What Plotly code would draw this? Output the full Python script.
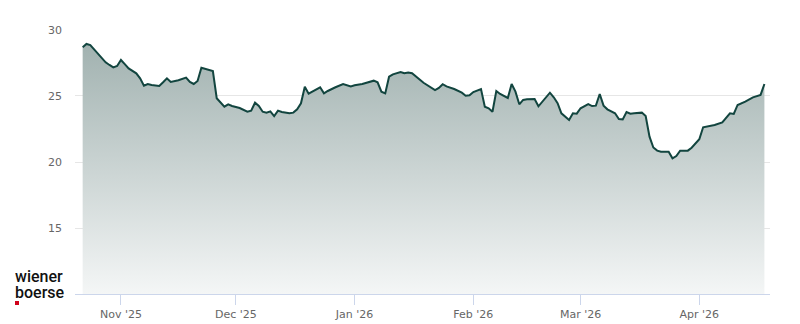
import plotly.graph_objects as go

dates = [
    "2025-10-22", "2025-10-23", "2025-10-24", "2025-10-26", "2025-10-28", "2025-10-29",
    "2025-10-30", "2025-10-31", "2025-11-01", "2025-11-02", "2025-11-03", "2025-11-05",
    "2025-11-06", "2025-11-07", "2025-11-08", "2025-11-09", "2025-11-11", "2025-11-12",
    "2025-11-13", "2025-11-14", "2025-11-16", "2025-11-18", "2025-11-19", "2025-11-20",
    "2025-11-21", "2025-11-22", "2025-11-23", "2025-11-25", "2025-11-26", "2025-11-27",
    "2025-11-28", "2025-11-29", "2025-11-30", "2025-12-02", "2025-12-04", "2025-12-05",
    "2025-12-06", "2025-12-07", "2025-12-08", "2025-12-09", "2025-12-10", "2025-12-11",
    "2025-12-12", "2025-12-13", "2025-12-15", "2025-12-16", "2025-12-17", "2025-12-18",
    "2025-12-19", "2025-12-20", "2025-12-21", "2025-12-23", "2025-12-24", "2025-12-25",
    "2025-12-27", "2025-12-29", "2025-12-31", "2026-01-01", "2026-01-03", "2026-01-05",
    "2026-01-06", "2026-01-07", "2026-01-08", "2026-01-09", "2026-01-10", "2026-01-11",
    "2026-01-13", "2026-01-14", "2026-01-15", "2026-01-16", "2026-01-17", "2026-01-18",
    "2026-01-19", "2026-01-22", "2026-01-23", "2026-01-24", "2026-01-25", "2026-01-27",
    "2026-01-29", "2026-01-30", "2026-01-31", "2026-02-01", "2026-02-03", "2026-02-04",
    "2026-02-05", "2026-02-06", "2026-02-07", "2026-02-08", "2026-02-10", "2026-02-11",
    "2026-02-12", "2026-02-13", "2026-02-14", "2026-02-15", "2026-02-17", "2026-02-18",
    "2026-02-21", "2026-02-22", "2026-02-23", "2026-02-24", "2026-02-26", "2026-02-27",
    "2026-02-28", "2026-03-01", "2026-03-03", "2026-03-04", "2026-03-05", "2026-03-06",
    "2026-03-07", "2026-03-08", "2026-03-10", "2026-03-11", "2026-03-12", "2026-03-13",
    "2026-03-14", "2026-03-15", "2026-03-17", "2026-03-18", "2026-03-19", "2026-03-20",
    "2026-03-21", "2026-03-22", "2026-03-24", "2026-03-25", "2026-03-26", "2026-03-27",
    "2026-03-29", "2026-03-30", "2026-04-01", "2026-04-02", "2026-04-05", "2026-04-07",
    "2026-04-09", "2026-04-10", "2026-04-11", "2026-04-13", "2026-04-15", "2026-04-17",
    "2026-04-18",
]

prices = [
    28.69, 28.94, 28.86, 28.23, 27.55, 27.35,
    27.17, 27.27, 27.73, 27.42, 27.09, 26.72,
    26.34, 25.78, 25.91, 25.83, 25.76, 26.04,
    26.34, 26.06, 26.19, 26.39, 26.06, 25.91,
    26.14, 27.14, 27.05, 26.89, 24.83, 24.52,
    24.19, 24.37, 24.24, 24.09, 23.81, 23.89,
    24.49, 24.24, 23.81, 23.74, 23.84, 23.48,
    23.89, 23.79, 23.69, 23.74, 23.99, 24.45,
    25.70, 25.18, 25.33, 25.66, 25.20, 25.38,
    25.66, 25.91, 25.73, 25.81, 25.91, 26.04,
    26.16, 26.04, 25.33, 25.20, 26.46, 26.64,
    26.82, 26.72, 26.77, 26.72, 26.46, 26.26,
    26.00, 25.45, 25.61, 25.89, 25.73, 25.53,
    25.25, 25.02, 25.05, 25.30, 25.53, 24.19,
    24.07, 23.81, 25.38, 25.15, 24.85, 25.91,
    25.33, 24.37, 24.70, 24.75, 24.77, 24.22,
    25.25, 24.90, 24.45, 23.69, 23.18, 23.69,
    23.66, 24.07, 24.39, 24.24, 24.27, 25.15,
    24.27, 23.99, 23.69, 23.26, 23.23, 23.79,
    23.66, 23.69, 23.74, 23.48, 21.92, 21.10,
    20.86, 20.78, 20.78, 20.28, 20.45, 20.86,
    20.86, 21.08, 21.72, 22.63, 22.80, 23.00,
    23.69, 23.64, 24.32, 24.57, 24.90, 25.08,
    25.91,
]

y_ticks = [15, 20, 25, 30]
x_tick_dates = ["2025-11-01", "2025-12-01", "2026-01-01", "2026-02-01", "2026-03-01", "2026-04-01"]
x_tick_labels = ["Nov '25", "Dec '25", "Jan '26", "Feb '26", "Mar '26", "Apr '26"]

PLOT_W, PLOT_H, PLOT_BOTTOM = 695, 265, 294

fig = go.Figure()
fig.add_trace(go.Scatter(
    x=dates, y=prices, mode="lines",
    line=dict(color="#12453f", width=2),
    fill="tozeroy",
    fillgradient=dict(
        type="vertical",
        colorscale=[[0, "#f4f6f6"], [1, "#9fb0ae"]],
        start=10, stop=29.5,
    ),
    hoverinfo="skip",
    showlegend=False,
))

fig.update_layout(
    width=800, height=324,
    margin=dict(l=75, r=30, t=29, b=30, autoexpand=False),
    paper_bgcolor="white", plot_bgcolor="white",
    font=dict(family="DejaVu Sans", size=11, color="#666666"),
    xaxis=dict(
        type="date",
        range=["2025-10-20", "2026-04-19 11:00"],
        tickvals=x_tick_dates, ticktext=x_tick_labels,
        ticks="outside", ticklen=10, tickcolor="#ccd6eb", tickwidth=1,
        showline=True, linecolor="#ccd6eb", linewidth=1,
        showgrid=False, zeroline=False, automargin=False,
        tickfont=dict(size=11, color="#666666"),
    ),
    yaxis=dict(
        range=[10, 30.075],
        tickvals=y_ticks,
        showgrid=True, gridcolor="#e6e6e6", gridwidth=1,
        zeroline=False, showline=False, automargin=False,
        ticks="", ticklabelstandoff=12,
        tickfont=dict(size=11, color="#666666"),
    ),
)

def px_x(x):
    return (x - 75) / PLOT_W

def px_y(y):
    return (PLOT_BOTTOM - y) / PLOT_H

logo_font = dict(family="Roboto", size=16, color="#111111", weight=500)
fig.add_annotation(
    xref="paper", yref="paper", x=px_x(14), y=px_y(268),
    xanchor="left", yanchor="top", text="wiener", showarrow=False,
    font=logo_font, borderpad=0, height=15, valign="middle",
)
fig.add_annotation(
    xref="paper", yref="paper", x=px_x(14), y=px_y(283.5),
    xanchor="left", yanchor="top", text="boerse", showarrow=False,
    font=logo_font, borderpad=0, height=15, valign="middle",
)
fig.add_shape(
    type="rect", xref="paper", yref="paper",
    x0=px_x(15), x1=px_x(19), y0=px_y(305), y1=px_y(301),
    fillcolor="#d0021b", line=dict(width=0),
)

fig.write_html("out.html")
